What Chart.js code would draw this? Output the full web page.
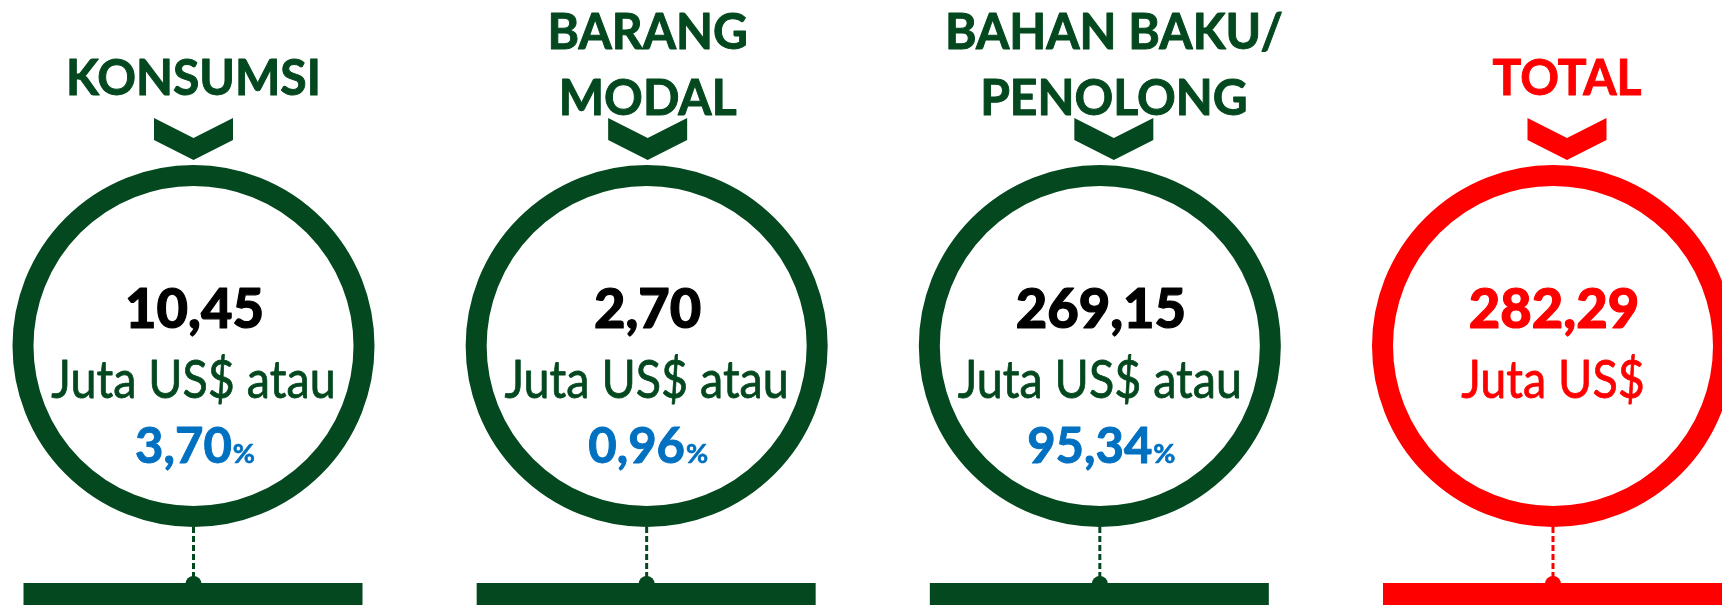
<!DOCTYPE html>
<html>
<head>
<meta charset="utf-8">
<script src="https://cdn.jsdelivr.net/npm/chart.js@4.4.0/dist/chart.umd.min.js"></script>
<style>
  html, body { margin: 0; padding: 0; background: #fff; overflow: hidden; }
  #wrap { width: 1722px; height: 605px; }
</style>
</head>
<body>
<div id="wrap"><canvas id="imporChart"></canvas></div>
<script>
  // Import categories (title lines above each circle)
  var categories = [['KONSUMSI'], ['BARANG', 'MODAL'], ['BAHAN BAKU/', 'PENOLONG'], ['TOTAL']];
  // Import value, million US$
  var nilaiJuta = [10.45, 2.70, 269.15, 282.29];
  // Share of total, %
  var persen = [3.70, 0.96, 95.34, null];
  // Unit line under each value
  var satuan = ['Juta US$ atau', 'Juta US$ atau', 'Juta US$ atau', 'Juta US$'];
  // single row the circles sit on
  var baris = ['Impor'];

  var GREEN = '#03481e', RED = '#ff0000', BLUE = '#0070c0';
  var FONT = 'Lato, "Open Sans", sans-serif';
  var ringColors = [GREEN, GREEN, GREEN, RED];
  var numColors = ['#000', '#000', '#000', RED];
  var titleShift = [0, 1, 14, 14];

  function fmt(v) {
    return v.toFixed(2).replace('.', ',');
  }

  // draw text squeezed horizontally (reference uses a narrow font),
  // with a thin outline so the strokes look as heavy as the original
  function fillNarrow(ctx, text, x, y, sx, outline) {
    ctx.save();
    ctx.translate(x, y);
    ctx.scale(sx, 1);
    ctx.fillText(text, 0, 0);
    if (outline) {
      ctx.strokeStyle = ctx.fillStyle;
      ctx.lineWidth = outline;
      ctx.lineJoin = 'round';
      ctx.strokeText(text, 0, 0);
    }
    ctx.restore();
  }

  var infoPlugin = {
    id: 'infoText',
    beforeDatasetsDraw: function(chart) {
      // dashed connector, knob and base bar under every circle
      var ctx = chart.ctx;
      chart.getDatasetMeta(0).data.forEach(function(p, i) {
        var col = ringColors[i];
        ctx.save();
        ctx.fillStyle = col;
        ctx.fillRect(p.x - 170, p.y + 237, 339, 40);
        ctx.beginPath();
        ctx.arc(p.x, p.y + 238, 8, Math.PI, 0);
        ctx.fill();
        ctx.strokeStyle = col;
        ctx.lineWidth = 3;
        ctx.setLineDash([6, 3]);
        ctx.beginPath();
        ctx.moveTo(p.x, p.y + 181);
        ctx.lineTo(p.x, p.y + 231);
        ctx.stroke();
        ctx.restore();
      });
    },
    afterDatasetsDraw: function(chart) {
      var ctx = chart.ctx;
      chart.getDatasetMeta(0).data.forEach(function(p, i) {
        var cx = p.x, cy = p.y;
        var tx = cx + titleShift[i];
        var col = ringColors[i];
        ctx.save();
        ctx.textAlign = 'center';
        ctx.textBaseline = 'alphabetic';

        // title
        ctx.fillStyle = col;
        ctx.font = 'bold 50px ' + FONT;
        var lines = chart.data.labels[i];
        if (lines.length === 1) {
          fillNarrow(ctx, lines[0], tx, cy - 251, 0.96, 1);
        } else {
          fillNarrow(ctx, lines[0], tx, cy - 297, 0.96, 1);
          fillNarrow(ctx, lines[1], tx, cy - 231, 0.96, 1);
        }

        // chevron
        ctx.beginPath();
        ctx.moveTo(tx - 39.5, cy - 228);
        ctx.lineTo(tx, cy - 208);
        ctx.lineTo(tx + 39.5, cy - 228);
        ctx.lineTo(tx + 39.5, cy - 206);
        ctx.lineTo(tx, cy - 186);
        ctx.lineTo(tx - 39.5, cy - 206);
        ctx.closePath();
        ctx.fill();

        // value
        ctx.fillStyle = numColors[i];
        ctx.font = '900 56px ' + FONT;
        fillNarrow(ctx, fmt(nilaiJuta[i]), cx + 1, cy - 18, 0.97, 1.2);

        // unit
        ctx.fillStyle = col;
        ctx.font = '53px ' + FONT;
        fillNarrow(ctx, satuan[i], cx, cy + 52, 0.88, 0.8);

        // share
        if (persen[i] !== null) {
          var s = fmt(persen[i]);
          ctx.font = 'bold 49px ' + FONT;
          var w1 = ctx.measureText(s).width;
          ctx.font = 'bold 27px ' + FONT;
          var w2 = ctx.measureText('%').width;
          var x0 = cx + 1 - (w1 + w2) / 2;
          ctx.textAlign = 'left';
          ctx.fillStyle = BLUE;
          ctx.font = 'bold 49px ' + FONT;
          fillNarrow(ctx, s, x0, cy + 117, 1, 1);
          ctx.font = 'bold 27px ' + FONT;
          fillNarrow(ctx, '%', x0 + w1 + 1, cy + 117, 1, 0.6);
        }
        ctx.restore();
      });
    }
  };

  var ctx = document.getElementById('imporChart').getContext('2d');

  var chart = new Chart(ctx, {
    type: 'line',
    data: {
      labels: categories,
      datasets: [{
        data: categories.map(function() { return baris[0]; }),
        showLine: false,
        clip: false,
        pointStyle: 'circle',
        pointRadius: 170.5,
        pointBorderWidth: 21,
        pointBackgroundColor: '#fff',
        pointBorderColor: ringColors
      }]
    },
    options: {
      responsive: true,
      maintainAspectRatio: false,
      animation: false,
      events: [],
      layout: {
        autoPadding: false,
        padding: { left: 193.5, right: 169, top: 165, bottom: 78 }
      },
      plugins: { legend: { display: false }, tooltip: { enabled: false } },
      scales: {
        x: { type: 'category', offset: false, display: false },
        y: { type: 'category', labels: baris, offset: true, display: false }
      }
    },
    plugins: [infoPlugin]
  });
</script>
</body>
</html>
